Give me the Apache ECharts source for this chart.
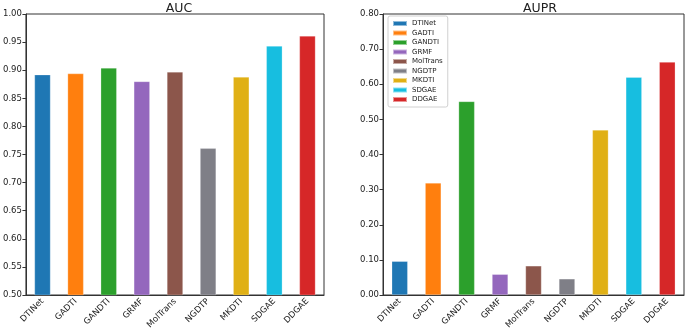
<!DOCTYPE html>
<html>
<head>
<meta charset="utf-8">
<script src="https://cdn.jsdelivr.net/npm/echarts@6/dist/echarts.min.js"></script>
<style>
html, body { margin: 0; padding: 0; background: #fff; }
#chart { width: 685px; height: 332px; }
</style>
</head>
<body>
<div id="chart"></div>
<script>
var methods = ['DTINet', 'GADTI', 'GANDTI', 'GRMF', 'MolTrans', 'NGDTP', 'MKDTI', 'SDGAE', 'DDGAE'];
var colors = ['#1f77b4', '#ff7f0e', '#2ca02c', '#9467bd', '#8c564b', '#7f7f87', '#e0b015', '#17bee0', '#d62728'];
var aucValues = [0.892, 0.894, 0.904, 0.880, 0.897, 0.761, 0.888, 0.943, 0.961];
var auprValues = [0.096, 0.319, 0.551, 0.059, 0.083, 0.046, 0.470, 0.620, 0.663];
var aucTicks = { min: 0.5, max: 1.0, interval: 0.05 };
var auprTicks = { min: 0, max: 0.8, interval: 0.1 };

var myChart = echarts.init(document.getElementById('chart'));

var font = 'DejaVu Sans';

function xAxisFor(gridIndex) {
	return {
		type: 'category',
		gridIndex: gridIndex,
		data: methods,
		axisLine: { lineStyle: { color: '#333', width: 1 } },
		axisTick: { alignWithLabel: true, length: 3.5, lineStyle: { color: '#333' } },
		axisLabel: { rotate: 45, fontSize: 8.5, color: '#222', fontFamily: font, margin: 5 }
	};
}

function yAxisFor(gridIndex, t) {
	return {
		type: 'value',
		gridIndex: gridIndex,
		min: t.min,
		max: t.max,
		interval: t.interval,
		splitLine: { show: false },
		axisLine: { show: true, lineStyle: { color: '#333', width: 1 } },
		axisTick: { show: true, length: 3.5, lineStyle: { color: '#333' } },
		axisLabel: {
			fontSize: 8.5, color: '#222', fontFamily: font, margin: 4,
			formatter: function (v) { return v.toFixed(2); }
		}
	};
}

// left: single series, colour per bar
var aucSeries = {
	type: 'bar',
	xAxisIndex: 0,
	yAxisIndex: 0,
	barWidth: 16,
	data: aucValues.map(function (v, i) {
		return { value: v, itemStyle: { color: colors[i], borderColor: 'rgba(255,255,255,0.5)', borderWidth: 0.5 } };
	})
};

// right: one series per method so the legend lists them
var auprSeries = methods.map(function (name, i) {
	return {
		name: name,
		type: 'bar',
		xAxisIndex: 1,
		yAxisIndex: 1,
		barWidth: 16,
		barGap: '-100%',
		itemStyle: { color: colors[i], borderColor: 'rgba(255,255,255,0.5)', borderWidth: 0.5 },
		data: auprValues.map(function (v, j) { return j === i ? v : '-'; })
	};
});

myChart.setOption(option = {
	animation: false,
	title: [
		{ text: 'AUC', left: 174, top: -3, textAlign: 'center', textStyle: { fontSize: 12.5, fontWeight: 'normal', color: '#222', fontFamily: font } },
		{ text: 'AUPR', left: 535, top: -3, textAlign: 'center', textStyle: { fontSize: 12.5, fontWeight: 'normal', color: '#222', fontFamily: font } }
	],
	legend: {
		orient: 'vertical',
		left: 388,
		top: 16,
		icon: 'rect',
		itemWidth: 14,
		itemHeight: 5,
		itemGap: 2.5,
		padding: [4, 5, 4, 4],
		borderColor: '#d0d0d0',
		borderWidth: 1,
		borderRadius: 2,
		textStyle: { fontSize: 7, color: '#222', fontFamily: font },
		data: methods
	},
	grid: [
		{ left: 24, top: 14, width: 300, height: 281, show: true, borderColor: '#333', borderWidth: 1 },
		{ left: 383, top: 14, width: 301, height: 281, show: true, borderColor: '#333', borderWidth: 1 }
	],
	xAxis: [xAxisFor(0), xAxisFor(1)],
	yAxis: [yAxisFor(0, aucTicks), yAxisFor(1, auprTicks)],
	series: [aucSeries].concat(auprSeries)
});
</script>
</body>
</html>
